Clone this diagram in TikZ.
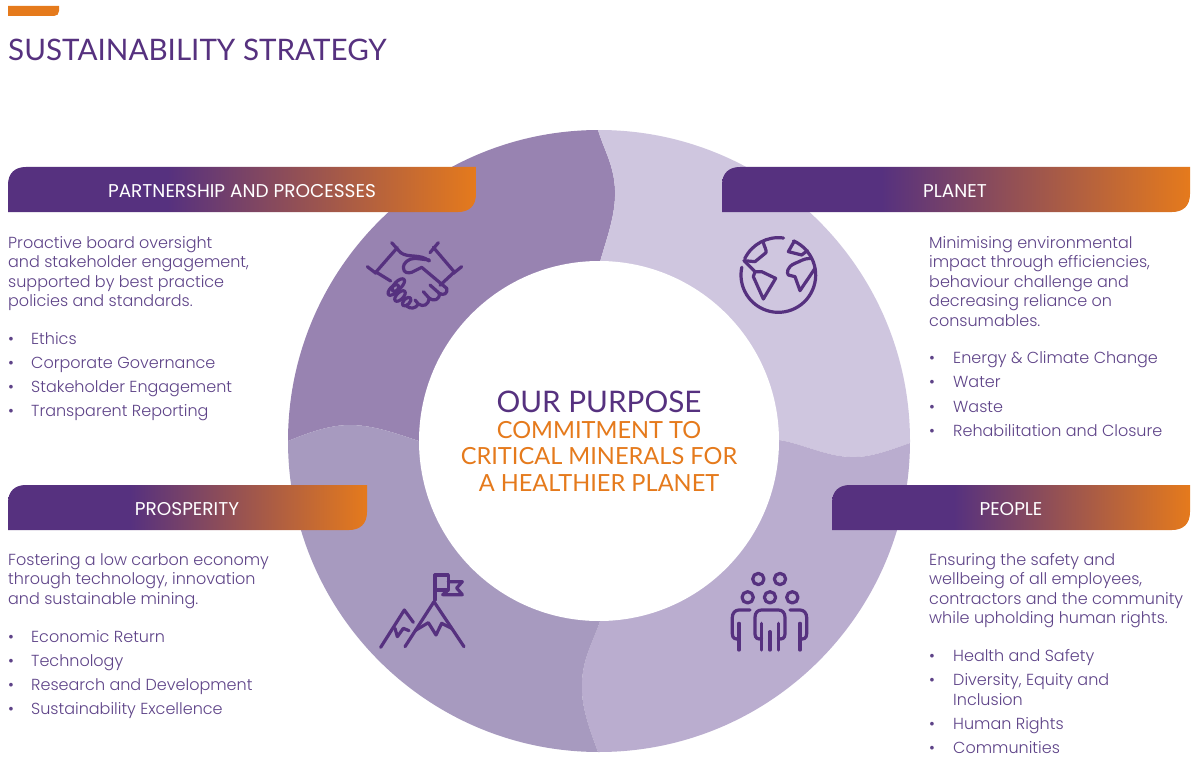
\documentclass[tikz,border=0pt]{standalone}
\usepackage{fontspec}
\setmainfont{Poppins Light}
\newfontfamily\ttl{Lato}
\newfontfamily\hdr{Poppins}
\definecolor{pu}{HTML}{56317F}
\definecolor{tx}{HTML}{5E4388}
\definecolor{or}{HTML}{E57A1C}
\definecolor{segA}{HTML}{9883B1}
\definecolor{segB}{HTML}{CFC6DF}
\definecolor{segC}{HTML}{BAADCF}
\definecolor{segD}{HTML}{A79ABF}
\pgfdeclarehorizontalshading{banner}{100bp}{color(0bp)=(pu); color(42bp)=(pu); color(75bp)=(or); color(100bp)=(or)}
\tikzset{
 x=1pt,y=-1pt,
 bannerfill/.style={shading=banner,shading angle=0},
 bannertext/.style={text=white,font=\hdr\fontsize{18.5}{20}\selectfont,inner sep=0pt,anchor=center},
 para/.style={text=tx,font=\fontsize{16}{19.5}\selectfont,inner sep=0pt,anchor=north west,align=left},
 item/.style={text=tx,font=\fontsize{16}{19.5}\selectfont,inner sep=0pt,anchor=base west},
 icon/.style={draw=pu,line cap=round,line join=round},
}
\newcommand{\banner}[4]{% x1,x2,y1,y2
 \shade[bannerfill] (#1,#4) -- (#1,#3+18) .. controls (#1,#3+6) and (#1+7,#3) .. (#1+18,#3) -- (#2,#3) -- (#2,#4-18) .. controls (#2,#4-6) and (#2-7,#4) .. (#2-18,#4) -- cycle;}
\newcommand{\bul}[5]{% name, bullet x, text x, y, text
 \node[item] (#1b) at (#2,#4+5.5) {•};
 \node[item] (#1) at (#3,#4+5.5) {#5};}
\begin{document}
\begin{tikzpicture}
\useasboundingbox (0,0) rectangle (1200,765);
\fill[white] (0,0) rectangle (1200,765);
% tab and title
\fill[or] (8,6) -- (59,6) -- (59,11) .. controls (59,14) and (57,16) .. (54,16) -- (8,16) -- cycle;
\node[text=pu,font=\ttl\fontsize{29.6}{32}\selectfont,inner sep=0pt,anchor=base west] (title) at (8,61) {SUSTAINABILITY STRATEGY};
% ring
\begin{scope}
\clip (599,441) circle[radius=311];
\fill[segA] (600,262) .. controls (606,240) and (616,215) .. (615,190) .. controls (614,165) and (604,150) .. (598,130) -- (598,100) -- (270,100) -- (270,441) -- (288,441) .. controls (310,432) and (330,425) .. (350,425) .. controls (375,425) and (400,435) .. (419,441) -- (599,441) -- cycle;
\fill[segB] (600,262) .. controls (606,240) and (616,215) .. (615,190) .. controls (614,165) and (604,150) .. (598,130) -- (598,100) -- (930,100) -- (930,443) -- (910,443) .. controls (890,450) and (870,458) .. (850,457) .. controls (825,456) and (800,443) .. (779,440) -- (599,441) -- cycle;
\fill[segC] (779,440) .. controls (800,443) and (825,456) .. (850,457) .. controls (870,458) and (890,450) .. (910,443) -- (930,443) -- (930,770) -- (598,770) -- (598,752) .. controls (590,730) and (580,705) .. (582,680) .. controls (584,655) and (594,640) .. (600,621) -- (599,441) -- cycle;
\fill[segD] (288,441) .. controls (310,432) and (330,425) .. (350,425) .. controls (375,425) and (400,435) .. (419,441) -- (599,441) -- (600,621) .. controls (594,640) and (584,655) .. (582,680) .. controls (580,705) and (590,730) .. (598,752) -- (598,770) -- (270,770) -- (270,441) -- cycle;
\end{scope}
\fill[white] (599,441) circle[radius=180];
% banners
\banner{8}{476}{167}{212}
\banner{722}{1190}{167}{212}
\banner{8}{367}{485}{530}
\banner{832}{1190}{485}{530}
\node[bannertext] (h1) at (242,191) {PARTNERSHIP AND PROCESSES};
\node[bannertext] (h2) at (955,191) {PLANET};
\node[bannertext] (h3) at (187,509) {PROSPERITY};
\node[bannertext] (h4) at (1011,509) {PEOPLE};
% centre
\node[text=pu,font=\ttl\fontsize{29.7}{32}\selectfont,inner sep=0pt] (c1) at (599,402) {OUR PURPOSE};
\node[text=or,font=\ttl\fontsize{23.6}{26.5}\selectfont,inner sep=0pt,align=center] (c2) at (599,456) {COMMITMENT TO\\CRITICAL MINERALS FOR\\A HEALTHIER PLANET};
% paragraphs
\node[para] (p1) at (8,236) {Proactive board oversight\\and stakeholder engagement,\\supported by best practice\\policies and standards.};
\node[para] (p2) at (929,236) {Minimising environmental\\impact through efficiencies,\\behaviour challenge and\\decreasing reliance on\\consumables.};
\node[para] (p3) at (8,553) {Fostering a low carbon economy\\through technology, innovation\\and sustainable mining.};
\node[para] (p4) at (929,553) {Ensuring the safety and\\wellbeing of all employees,\\contractors and the community\\while upholding human rights.};
% bullets
\bul{a1}{8}{31}{339}{Ethics}
\bul{a2}{8}{31}{363}{Corporate Governance}
\bul{a3}{8}{31}{387}{Stakeholder Engagement}
\bul{a4}{8}{31}{411}{Transparent Reporting}
\bul{b1}{929}{953}{358}{Energy \& Climate Change}
\bul{b2}{929}{953}{382}{Water}
\bul{b3}{929}{953}{407}{Waste}
\bul{b4}{929}{953}{431}{Rehabilitation and Closure}
\bul{d1}{8}{31}{637}{Economic Return}
\bul{d2}{8}{31}{661}{Technology}
\bul{d3}{8}{31}{685}{Research and Development}
\bul{d4}{8}{31}{709}{Sustainability Excellence}
\bul{e1}{929}{953}{656}{Health and Safety}
\bul{e2}{929}{953}{680}{Diversity, Equity and}
\node[item] (e2x) at (953,705.5) {Inclusion};
\bul{e3}{929}{953}{724}{Human Rights}
\bul{e4}{929}{953}{748}{Communities}
% handshake
\begin{scope}[shift={(340,210)},scale=1/3,line width=3.2pt]
\draw[icon] (155,98) -- (182,128);
\draw[icon] (172,113) -- (108,186);
\draw[icon] (82,170) -- (108,190);
\draw[icon] (108,186) -- (152,213);
\draw[icon] (295,98) -- (270,128);
\draw[icon] (280,112) -- (343,186);
\draw[icon] (365,170) -- (340,190);
\draw[icon] (343,186) -- (300,226);
\draw[icon] (182,128) .. controls (205,145) and (240,130) .. (268,153);
\draw[icon] (268,150) -- (225,145) .. controls (205,145) and (190,160) .. (190,172) .. controls (190,190) and (205,190) .. (215,187) -- (245,172) -- (320,235) .. controls (325,250) and (310,258) .. (298,250) -- (270,225);
\draw[icon] (298,250) .. controls (300,270) and (280,275) .. (268,265) -- (250,245);
\draw[icon] (268,265) .. controls (265,285) and (250,292) .. (235,282) -- (225,270);
\draw[icon] (235,282) .. controls (228,296) and (210,298) .. (200,288);
\draw[icon,rotate around={45:(175,225)}] (175,225) ellipse[x radius=24,y radius=11];
\draw[icon,rotate around={45:(160,240)}] (160,240) ellipse[x radius=20,y radius=10];
\draw[icon,rotate around={45:(180,258)}] (180,258) ellipse[x radius=20,y radius=10];
\draw[icon,rotate around={45:(200,275)}] (200,275) ellipse[x radius=16,y radius=9];
\end{scope}
% globe
\begin{scope}[shift={(720,220)},scale=1/3,line width=3.2pt]
\draw[icon] (175,165) ++(-66:112) arc[start angle=-66,end angle=192,radius=112];
\draw[icon] (175,165) ++(206:112) arc[start angle=206,end angle=278,radius=112];
\draw[icon] (130,68) .. controls (133,80) and (140,90) .. (138,98) -- (105,125) -- (72,122);
\draw[icon] (72,122) -- (105,155) -- (100,170) -- (130,237) -- (167,175) -- (125,155) -- (105,155);
\draw[icon] (222,65) -- (205,95) -- (245,105) -- (262,92);
\draw[icon] (272,115) .. controls (250,115) and (240,125) .. (225,130) .. controls (200,140) and (200,160) .. (205,165) -- (225,170) -- (240,212) -- (285,145);
\end{scope}
% mountain
\begin{scope}[shift={(360,560)},scale=1/3,line width=3.2pt]
\draw[icon] (225,120) -- (225,45) -- (265,45) -- (265,90) -- (225,90);
\draw[icon] (265,65) -- (307,65) -- (290,84) -- (307,104) -- (248,104) -- (265,90);
\draw[icon] (135,260) -- (222,125) -- (312,260);
\draw[icon] (165,212) -- (205,188) -- (228,225) -- (245,190) -- (275,205);
\draw[icon] (62,262) -- (133,150) -- (160,187);
\draw[icon] (105,205) -- (112,230) -- (130,205) -- (147,212);
\end{scope}
% people
\begin{scope}[shift={(715,560)},scale=1/3,line width=3.2pt]
\draw[icon] (130,57) circle[radius=17];
\draw[icon] (195,57) circle[radius=17];
\draw[icon] (98,112) circle[radius=17];
\draw[icon] (165,112) circle[radius=17];
\draw[icon] (232,112) circle[radius=17];
\draw[icon] (140,190) -- (140,270);
\draw[icon] (190,190) -- (190,270);
\draw[icon] (165,215) -- (165,270);
\draw[icon] (140,235) .. controls (130,240) and (120,235) .. (120,222) -- (120,172) .. controls (120,158) and (128,150) .. (140,150) -- (190,150) .. controls (202,150) and (210,158) .. (210,172) -- (210,222) .. controls (210,235) and (200,240) .. (190,235);
\draw[icon] (72,190) -- (72,270);
\draw[icon] (105,150) -- (72,150) .. controls (60,150) and (52,160) .. (52,172) -- (52,222) .. controls (52,235) and (62,240) .. (72,235);
\draw[icon] (255,190) -- (255,270);
\draw[icon] (225,150) -- (255,150) .. controls (267,150) and (275,160) .. (275,172) -- (275,222) .. controls (275,235) and (265,240) .. (255,235);
\end{scope}
\end{tikzpicture}
\end{document}
